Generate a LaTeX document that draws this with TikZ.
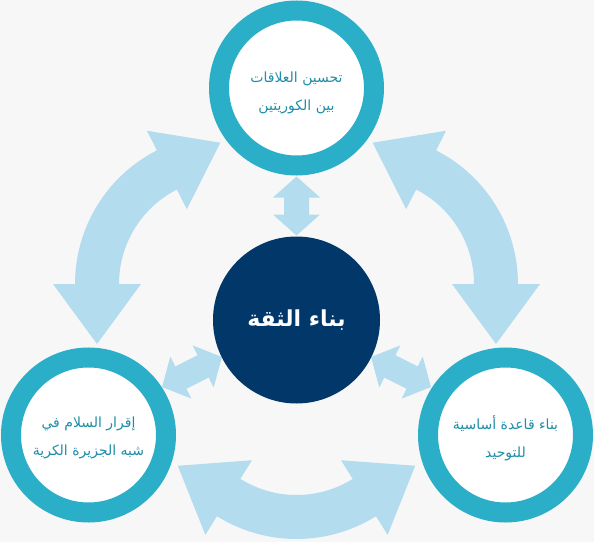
\documentclass[tikz,border=0pt]{standalone}
\usepackage{fontspec}
\newfontfamily\arabicfont[Script=Arabic]{DejaVu Sans}
\TeXXeTstate=1
\usetikzlibrary{calc}
\definecolor{bgc}{HTML}{F7F7F7}
\definecolor{ringc}{HTML}{2BAFC9}
\definecolor{navyc}{HTML}{02376A}
\definecolor{arrowc}{HTML}{B3DCEF}
\definecolor{textc}{HTML}{1F8EA8}
\newcommand\dblarc[3]{%
  \fill[arrowc] ($(#1)+(#2:150pt)$) arc[start angle=#2,end angle=#3,radius=150pt]
    -- ($(#1)+(#3:172pt)$) -- ($(#1)+(#3:128pt)+({#3+90}:60pt)$)
    -- ($(#1)+(#3:84pt)$) -- ($(#1)+(#3:106pt)$)
    arc[start angle=#3,end angle=#2,radius=106pt]
    -- ($(#1)+(#2:84pt)$) -- ($(#1)+(#2:128pt)+({#2-90}:60pt)$)
    -- ($(#1)+(#2:172pt)$) -- cycle;}
\newcommand\dblstraight[3]{%
  \fill[arrowc, shift={(#1)}, rotate=#2]
    (-#3,0) -- (-#3+21,23.5) -- (-#3+21,12.5) -- (#3-21,12.5) -- (#3-21,23.5)
    -- (#3,0) -- (#3-21,-23.5) -- (#3-21,-12.5) -- (-#3+21,-12.5) -- (-#3+21,-23.5) -- cycle;}
\begin{document}
\begin{tikzpicture}[x=1pt,y=1pt,
  ring/.style={circle, draw=ringc, line width=20pt, fill=white, minimum size=155pt, inner sep=0pt},
  ringtext/.style={text=textc, align=center, inner sep=0pt, font=\arabicfont\fontsize{14}{28}\selectfont},
  core/.style={circle, fill=navyc, minimum size=167pt, inner sep=0pt, text=white,
    font=\arabicfont\bfseries\fontsize{22}{26}\selectfont}]
\fill[bgc] (0,0) rectangle (594,542);
\useasboundingbox (0,0) rectangle (594,542);
% curved double arrows
\coordinate (Lc) at (225,258);
\coordinate (Rc) at (368,258);
\coordinate (Bc) at (296.5,153);
\dblarc{Lc}{117}{180}
\dblarc{Rc}{0}{63}
\dblarc{Bc}{238}{302}
% small double arrows
\coordinate (mt) at (296.5,336);
\coordinate (ml) at (192,170);
\coordinate (mr) at (401,170);
\dblstraight{mt}{90}{29.5}
\dblstraight{ml}{26.6}{33.5}
\dblstraight{mr}{-26.6}{33.5}
% circles
\node[ring] (top) at (296.5,454) {};
\node[ring] (bl) at (88.5,107) {};
\node[ring] (br) at (505.5,107) {};
\node[ringtext] (topt) at ($(top)+(0,-5)$) {\beginR تحسين العلاقات\endR\\\beginR بين الكوريتين\endR};
\node[ringtext] (blt) at ($(bl)+(0,-3)$) {\beginR إقرار السلام في\endR\\\beginR شبه الجزيرة الكرية\endR};
\node[ringtext] (brt) at ($(br)+(0,-3)$) {\beginR بناء قاعدة أساسية\endR\\\beginR للتوحيد\endR};
\node[core] (core) at (296.5,222) {\beginR بناء الثقة\endR};
\end{tikzpicture}
\end{document}
